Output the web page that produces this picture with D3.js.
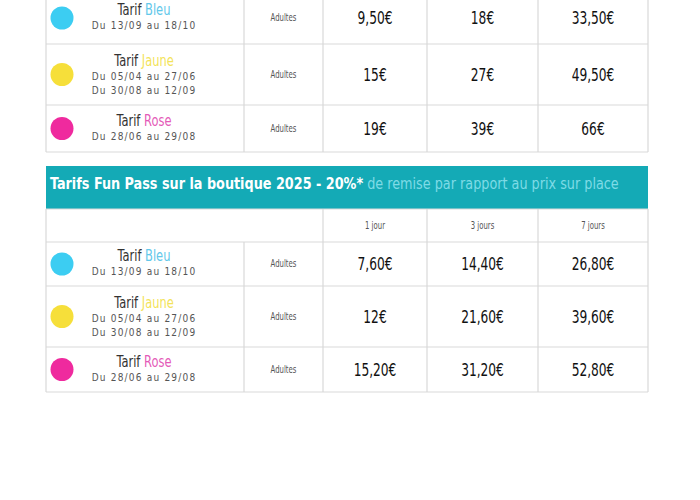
<!DOCTYPE html>
<html><head><meta charset="utf-8">
<script src="https://cdn.jsdelivr.net/npm/d3@7"></script>
<style>body{margin:0;background:#fff}svg{display:block}</style>
</head><body>
<svg id="c" width="700" height="500"></svg>
<script>
const tarifs = ["Bleu", "Jaune", "Rose"];
const periodes = [["Du 13/09 au 18/10"], ["Du 05/04 au 27/06", "Du 30/08 au 12/09"], ["Du 28/06 au 29/08"]];
const durees = ["1 jour", "3 jours", "7 jours"];
const prixSurPlace = [["9,50€", "18€", "33,50€"], ["15€", "27€", "49,50€"], ["19€", "39€", "66€"]];
const prixBoutique = [["7,60€", "14,40€", "26,80€"], ["12€", "21,60€", "39,60€"], ["15,20€", "31,20€", "52,80€"]];
const titre = ["Tarifs Fun Pass sur la boutique 2025 - 20%*", " de remise par rapport au prix sur place"];

const dotCol = {Bleu:"#3ccdf2", Jaune:"#f6df3a", Rose:"#ef2a9e"};
const txtCol = {Bleu:"#62c8ea", Jaune:"#f3e35a", Rose:"#e45ab8"};
const F = "'Liberation Sans Narrow','DejaVu Sans Condensed',sans-serif";
const svg = d3.select("#c");
const colX = [46, 244, 323, 427, 538, 648];
const L = 46, R = 648;
const line = (x1,y1,x2,y2)=>svg.append("line").attr("x1",x1).attr("y1",y1).attr("x2",x2).attr("y2",y2).attr("stroke","#d9d9d9").attr("stroke-width",1.2);
function ntext(x,y,s,size,fill,sx){
  return svg.append("text").attr("transform",`translate(${x},${y}) scale(${sx},1)`).attr("text-anchor","middle")
    .attr("font-family",F).attr("font-size",size).attr("fill",fill).text(s);
}

function table(rowEdges, prices, withHeader){
  const y = d3.scaleOrdinal().domain(tarifs).range(tarifs.map((t,i)=>[rowEdges[i],rowEdges[i+1]]));
  tarifs.forEach((t,i)=>{
    const [y0,y1] = y(t), cy=(y0+y1)/2;
    svg.append("circle").attr("cx",62).attr("cy",cy).attr("r",11.5).attr("fill",dotCol[t]);
    const n = periodes[i].length;
    const ty = cy - (n===1?3:9);
    const tt = svg.append("text").attr("transform",`translate(144,${ty}) scale(0.85,1)`).attr("text-anchor","middle").attr("font-family",F).attr("font-size",15).attr("fill","#333");
    tt.append("tspan").text("Tarif ");
    tt.append("tspan").attr("fill",txtCol[t]).text(t);
    periodes[i].forEach((p,k)=>svg.append("text").attr("x",144).attr("y",ty+14+k*14).attr("text-anchor","middle")
      .attr("font-family",F).attr("font-size",10).attr("letter-spacing",1.2).attr("fill","#555").text(p));
    ntext((colX[1]+colX[2])/2, cy+3, "Adultes", 11, "#555", 0.7);
    prices[i].forEach((v,j)=>ntext((colX[j+2]+colX[j+3])/2, cy+6, v, 17, "#111", 0.8));
  });
  const top = withHeader ? withHeader : rowEdges[0];
  rowEdges.forEach(e=>{ if(e>=0) line(L,e,R,e); });
  [L,colX[1],R].forEach(x=>line(x,rowEdges[0],x,rowEdges[3]));
  colX.slice(2,5).forEach(x=>line(x,top,x,rowEdges[3]));
  if(withHeader){
    line(L,top,R,top); line(L,top,L,rowEdges[0]); line(R,top,R,rowEdges[0]);
    durees.forEach((d,j)=>ntext((colX[j+2]+colX[j+3])/2,(top+rowEdges[0])/2+3,d,11,"#555",0.7));
  }
}
table([-8,44,105,152], prixSurPlace, null);
svg.append("rect").attr("x",L).attr("y",166).attr("width",R-L).attr("height",43).attr("fill","#14aab6");
const tt = svg.append("text").attr("transform","translate(50,189) scale(0.95,1)").attr("font-family",F).attr("font-size",15).attr("fill","#fff");
tt.append("tspan").attr("font-weight","bold").text(titre[0]);
tt.append("tspan").attr("fill","#7fdbe6").text(titre[1]);
table([242,286,347,392], prixBoutique, 209);
</script></body></html>
